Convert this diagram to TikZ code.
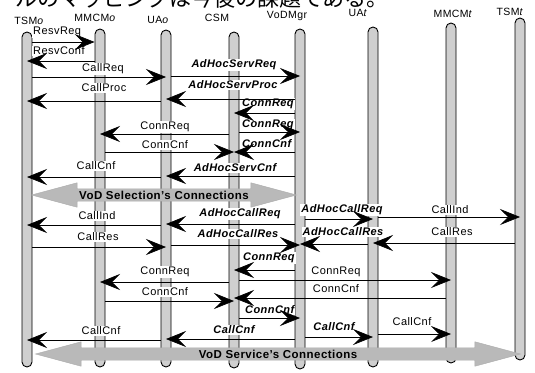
\documentclass[tikz,border=0pt]{standalone}
\usepackage{fontspec}
\setmainfont[LetterSpace=4]{Liberation Sans}
\newfontfamily\jpfont{Noto Sans CJK JP}
\usetikzlibrary{arrows.meta,shapes.arrows}

\begin{document}
\begin{tikzpicture}[x=1pt,y=-1pt,
    lifeline/.style={draw, line width=0.9pt, fill=gray!38, rounded corners=5pt,
      minimum width=10pt, inner sep=0pt},
    msg/.style={line width=0.7pt, -{Stealth[length=20pt,width=16pt,inset=8pt]}},
    lbl/.style={fill=white, inner sep=1pt, font=\fontsize{11}{13}\selectfont},
    albl/.style={lbl, font=\fontsize{11}{13}\selectfont\bfseries\itshape},
    hdr/.style={font=\fontsize{10.5}{12}\selectfont},
    conn/.style={double arrow, double arrow tip angle=30, double arrow head extend=6pt,
      fill=gray!55, draw=gray!65, inner sep=1.8pt,
      font=\fontsize{11.5}{13}\selectfont\bfseries}]

      % Page frame
      \fill[white] (0,0) rectangle (535,372);
      \useasboundingbox (0,0) rectangle (535,372);

      % Running text of the page, cut at the top
      \node[anchor=base west, inner sep=0pt, font=\jpfont\fontsize{22}{24}\selectfont]
        (jp) at (15,6) {ルのマッピングは今後の課題である。};

      % Lifelines
      \node[lifeline, minimum height=335] (tsmo)   at (27,199.5) {};
      \node[lifeline, minimum height=338] (mmcmo)  at (100,198)  {};
      \node[lifeline, minimum height=337] (uao)    at (166,198.5) {};
      \node[lifeline, minimum height=336] (csm)    at (234,200)  {};
      \node[lifeline, minimum height=340] (vodmgr) at (300,199)  {};
      \node[lifeline, minimum height=340] (uat)    at (373,197)  {};
      \node[lifeline, minimum height=340] (mmcmt)  at (451,193)  {};
      \node[lifeline, minimum height=342] (tsmt)   at (520,189)  {};

      % Entity names
      \node[hdr] (htsmo)   at (29,21)  {TSM\textit{o}};
      \node[hdr] (hmmcmo)  at (95,18)  {MMCM\textit{o}};
      \node[hdr] (huao)    at (158,20) {UA\textit{o}};
      \node[hdr] (hcsm)    at (217,18) {CSM};
      \node[hdr] (hvodmgr) at (287,16) {VoDMgr};
      \node[hdr] (huat)    at (358,13) {UA\textit{t}};
      \node[hdr] (hmmcmt)  at (453,14) {MMCM\textit{t}};
      \node[hdr] (htsmt)   at (510,12) {TSM\textit{t}};

      % Labels, selection phase
      \node[lbl, anchor=west] (resvreq)  at (32,32)  {ResvReq};
      \node[lbl, anchor=west] (resvconf) at (32,51)  {ResvConf};
      \node[lbl]  (callreq)  at (103,69)  {CallReq};
      \node[albl] (ahsreq)   at (234,65)  {AdHocServReq};
      \node[albl] (ahsproc)  at (233,85)  {AdHocServProc};
      \node[lbl]  (callproc) at (104,88)  {CallProc};
      \node[albl, anchor=west] (cr1) at (241,104) {ConnReq};
      \node[lbl]  (cr2)      at (165,127) {ConnReq};
      \node[albl, anchor=west] (cr3) at (241,125) {ConnReq};
      \node[lbl]  (cc1)      at (165,145) {ConnCnf};
      \node[albl, anchor=west] (cc2) at (241,144) {ConnCnf};
      \node[lbl]  (callcnf1) at (96,166)  {CallCnf};
      \node[albl] (ahscnf)   at (235,168) {AdHocServCnf};

      % Labels, service phase
      \node[albl] (ahcreq1)  at (240,214) {AdHocCallReq};
      \node[lbl]  (callind1) at (97,216)  {CallInd};
      \node[albl] (ahcreq2)  at (342,210) {AdHocCallReq};
      \node[lbl]  (callind2) at (450,210) {CallInd};
      \node[lbl]  (callres1) at (98,237)  {CallRes};
      \node[albl] (ahcres1)  at (238,234) {AdHocCallRes};
      \node[albl] (ahcres2)  at (343,232) {AdHocCallRes};
      \node[lbl]  (callres2) at (452,232) {CallRes};
      \node[albl, anchor=west] (cr4) at (242,258) {ConnReq};
      \node[lbl]  (cr5)      at (165,272) {ConnReq};
      \node[lbl]  (cr6)      at (336,272) {ConnReq};
      \node[lbl]  (cc3)      at (165,292) {ConnCnf};
      \node[lbl]  (cc4)      at (336,289) {ConnCnf};
      \node[albl, anchor=west] (cc5) at (244,310) {ConnCnf};
      \node[albl] (callcnf2) at (234,330) {CallCnf};
      \node[lbl]  (callcnf3) at (101,331) {CallCnf};
      \node[albl] (callcnf4) at (334,327) {CallCnf};
      \node[lbl]  (callcnf5) at (412,322) {CallCnf};

      % Messages, selection phase
      \draw[msg] (tsmo.east |- 0,42) -- (mmcmo.west |- 0,42);
      \draw[msg] (mmcmo.west |- 0,61) -- (tsmo |- 0,61);
      \draw[msg] (tsmo.east |- 0,77) -- (uao |- 0,77);
      \draw[msg] (uao.east |- 0,76) -- (vodmgr |- 0,76);
      \draw[msg] (vodmgr.west |- 0,99) -- (uao |- 0,99);
      \draw[msg] (uao.west |- 0,101) -- (tsmo |- 0,101);
      \draw[msg] (vodmgr.west |- 0,113) -- (csm |- 0,113);
      \draw[msg] (csm.west |- 0,134) -- (mmcmo |- 0,134);
      \draw[msg] (csm.east |- 0,132) -- (vodmgr |- 0,132);
      \draw[msg] (mmcmo.east |- 0,152) -- (csm |- 0,152);
      \draw[msg] (vodmgr.west |- 0,152) -- (csm |- 0,152);
      \draw[msg] (vodmgr.west |- 0,176) -- (uao |- 0,176);
      \draw[msg] (uao.west |- 0,177) -- (tsmo |- 0,177);

      \node[conn, minimum height=265] (selconn) at (164,195) {VoD Selection's Connections};

      % Messages, service phase
      \draw[msg] (vodmgr.west |- 0,224) -- (uao |- 0,224);
      \draw[msg] (uao.west |- 0,225) -- (tsmo |- 0,225);
      \draw[msg] (vodmgr.east |- 0,219) -- (uat |- 0,219);
      \draw[msg] (uat.east |- 0,217) -- (tsmt |- 0,217);
      \draw[msg] (tsmo.east |- 0,247) -- (uao |- 0,247);
      \draw[msg] (uao.east |- 0,245) -- (vodmgr |- 0,245);
      \draw[msg] (tsmt.west |- 0,243) -- (uat |- 0,243);
      \draw[msg] (uat.west |- 0,244) -- (vodmgr |- 0,244);
      \draw[msg] (vodmgr.west |- 0,270) -- (csm |- 0,270);
      \draw[msg] (csm.west |- 0,282) -- (mmcmo |- 0,282);
      \draw[msg] (csm.east |- 0,280) -- (mmcmt |- 0,280);
      \draw[msg] (mmcmo.east |- 0,301) -- (csm |- 0,301);
      \draw[msg] (mmcmt.west |- 0,298) -- (csm |- 0,298);
      \draw[msg] (csm.east |- 0,318) -- (vodmgr |- 0,318);
      \draw[msg] (vodmgr.west |- 0,339) -- (uao |- 0,339);
      \draw[msg] (uao.west |- 0,340) -- (tsmo |- 0,340);
      \draw[msg] (vodmgr.east |- 0,337) -- (uat |- 0,337);
      \draw[msg] (uat.east |- 0,334) -- (mmcmt |- 0,334);

      \node[conn, minimum height=485] (srvconn) at (278,354) {VoD Service's Connections};
    \end{tikzpicture}
\end{document}
